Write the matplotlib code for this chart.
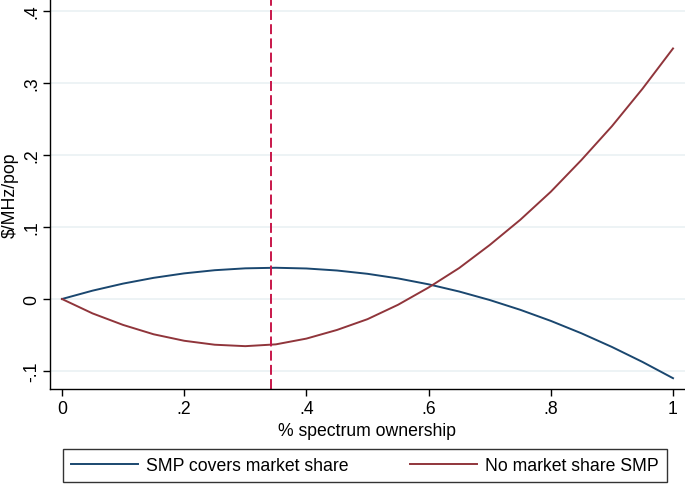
import matplotlib as mpl
from matplotlib import pyplot as plt
import numpy as np

# values
share = [0, .05, .1, .15, .2, .25, .3, .35, .4, .45, .5,
         .55, .6, .65, .7, .75, .8, .85, .9, .95, 1]
smp_covers = [0, .0116, .0214, .0294, .0356, .0400, .0426, .0434, .0424, .0396, .0350,
              .0286, .0204, .0104, -.0014, -.0150, -.0304, -.0476, -.0666, -.0874, -.110]
no_share = [0, -.020, -.036, -.049, -.058, -.0635, -.0655, -.063, -.055, -.043, -.028,
            -.008, .016, .043, .075, .110, .149, .193, .240, .292, .348]
cutoff = 0.342
xticks = [0, .2, .4, .6, .8, 1]
xtick_labels = ['0', '.2', '.4', '.6', '.8', '1']
yticks = [-.1, 0, .1, .2, .3, .4]
ytick_labels = ['-.1', '0', '.1', '.2', '.3', '.4']
series_names = ['SMP covers market share', 'No market share SMP']

plt.rcParams['font.family'] = ['Liberation Sans', 'DejaVu Sans']
fs = 12.7

fig = plt.figure(figsize=(6.85, 4.85), dpi=100)
ax = fig.add_axes([50/685, 95/485, 635/685, 390/485])

for y in yticks:
    ax.axhline(y, color='#e8f0f2', linewidth=1.1, zorder=0)

l1, = ax.plot(share, smp_covers, color='#1a476f', linewidth=1.4)
l2, = ax.plot(share, no_share, color='#90353b', linewidth=1.4)
ax.axvline(cutoff, color='#c8174a', linewidth=1.4, linestyle=(0, (5.1, 2.2)))

ax.set_xlim(-0.0196, 1.0196)
ax.set_ylim(-0.125, 0.4167)
ax.spines['top'].set_visible(False)
ax.spines['right'].set_visible(False)
ax.spines['left'].set_linewidth(1.0)
ax.spines['bottom'].set_linewidth(1.0)

ax.set_xticks(xticks)
ax.set_xticklabels(xtick_labels, fontsize=fs)
ax.set_yticks(yticks)
ax.set_yticklabels(ytick_labels, fontsize=fs, rotation=90, va='center')
ax.tick_params(axis='both', length=5.2, width=1, color='black', pad=3)
ax.tick_params(axis='y', pad=2)

ax.set_xlabel('% spectrum ownership', fontsize=fs, labelpad=3)
ax.set_ylabel('\\$/MHz/pop', fontsize=fs)
ax.yaxis.set_label_coords(-0.049, 0.5)

leg = fig.legend([l1, l2], series_names, loc='lower left', ncol=2,
                 bbox_to_anchor=(63/685, 2/485),
                 fontsize=fs, frameon=True, fancybox=False, handlelength=3.8,
                 borderpad=0.45, handletextpad=0.45, columnspacing=3.5,
                 borderaxespad=0)
leg.get_frame().set_edgecolor('black')
leg.get_frame().set_linewidth(1.0)

plt.savefig('out.png', dpi=100)
